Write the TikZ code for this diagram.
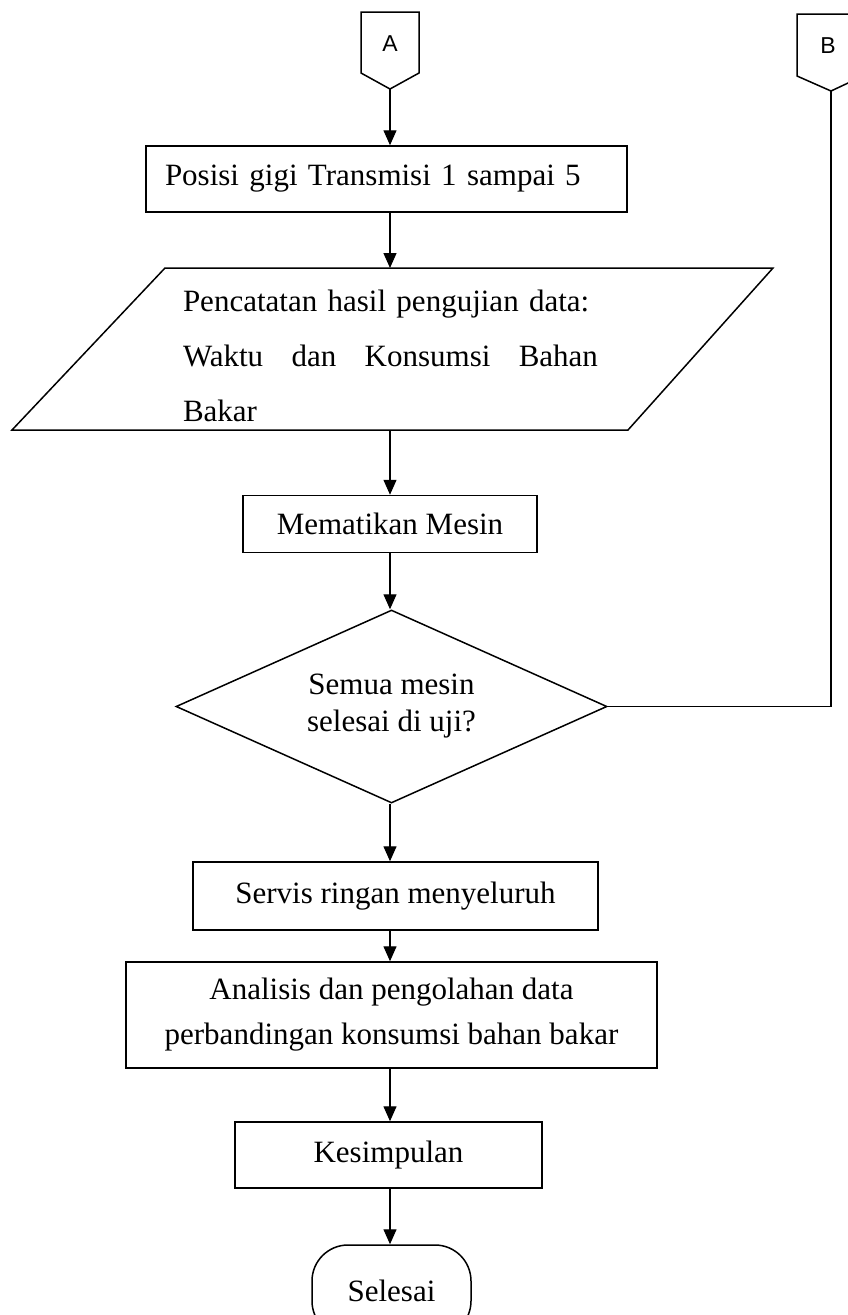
\documentclass[tikz,border=0pt]{standalone}
\usepackage{fontspec}
\setmainfont{Liberation Serif}
\newfontfamily\connfont{Liberation Sans}
\usetikzlibrary{arrows.meta,shapes.geometric}

\begin{document}
\begin{tikzpicture}[x=1pt,y=-1pt,
  line width=1.5pt,
  font=\fontsize{31}{37}\selectfont,
  proc/.style={draw, rectangle, inner sep=0pt, align=center},
  flow/.style={-{Triangle[width=13pt,length=15pt]}, line width=1.4pt},
  offpage/.style={font=\connfont\fontsize{23}{23}\selectfont, inner sep=0pt},
  ]
\useasboundingbox (0,0) rectangle (848,1315);
\clip (0,0) rectangle (848,1315);

% vertical axis of the main flow
\coordinate (spine) at (390,0);

% off-page connector A
\node[offpage] (A) at (390,44) {A};
\draw (361,12) -- (419,12) -- (419,73) -- (390,89) -- (361,73) -- cycle;
\coordinate (Atip) at (390,89);

% off-page connector B
\node[offpage] (B) at (828,46) {B};
\draw (797,14) -- (863,14) -- (863,76) -- (831,91) -- (797,76) -- cycle;
\coordinate (Btip) at (831,91);

% process steps
\node[proc, minimum width=481, minimum height=66, text width=443, align=left]
  (gear) at (386.5,179) {Posisi gigi Transmisi 1 sampai 5};

% data record (parallelogram)
\draw (165,268) -- (773,268) -- (628,430) -- (12,430) -- cycle;
\coordinate (recTop) at (390,268);
\coordinate (recBot) at (390,430);
\node[inner sep=0pt, text width=415, align=left,
      font=\fontsize{31}{55}\selectfont] (rec) at (390.5,356)
  {Pencatatan hasil pengujian data:\\
   \makebox[415pt][s]{Waktu\hfil dan\hfil Konsumsi\hfil Bahan}\\
   Bakar};

\node[proc, minimum width=294, minimum height=57] (stop) at (390,524) {Mematikan Mesin};

\node[draw, diamond, aspect=2.23, inner sep=0pt, minimum width=431, minimum height=193,
      align=center] (dec) at (391.5,706.5) {Semua mesin\\selesai di uji?};

\node[proc, minimum width=405, minimum height=68] (serv) at (395.5,896) {Servis ringan menyeluruh};

\node[proc, minimum width=531, minimum height=106, font=\fontsize{31}{45}\selectfont]
  (anal) at (391.5,1015) {Analisis dan pengolahan data\\perbandingan konsumsi bahan bakar};

\node[proc, minimum width=307, minimum height=66] (conc) at (388.5,1155) {Kesimpulan};

\node[draw, rectangle, rounded corners=36pt, minimum width=159, minimum height=92,
      inner sep=0pt] (end) at (391.5,1291) {Selesai};

% connectors
\draw[flow] (Atip) -- (spine |- gear.north);
\draw[flow] (spine |- gear.south) -- (recTop);
\draw[flow] (recBot) -- (spine |- stop.north);
\draw[flow] (spine |- stop.south) -- (spine |- dec.north);
\draw[flow] (spine |- dec.south) -- (spine |- serv.north);
\draw[flow] (spine |- serv.south) -- (spine |- anal.north);
\draw[flow] (spine |- anal.south) -- (spine |- conc.north);
\draw[flow] (spine |- conc.south) -- (spine |- end.north);
\draw (Btip) |- (dec.east);
\end{tikzpicture}
\end{document}
